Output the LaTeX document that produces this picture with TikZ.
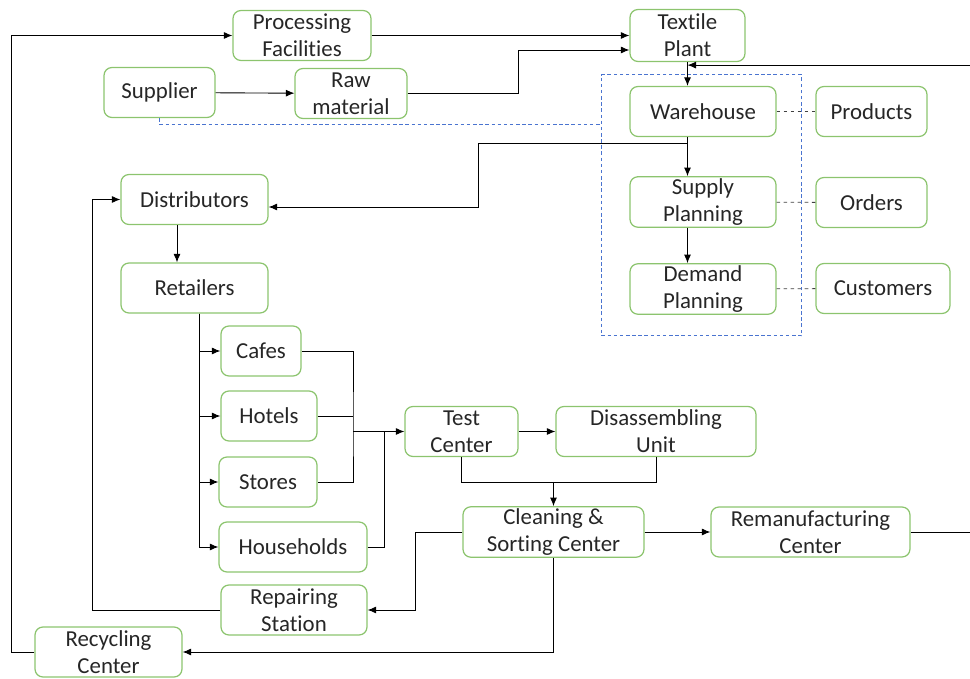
\documentclass[tikz,border=0pt]{standalone}
\usepackage{fontspec}
\setmainfont{Carlito}[Ligatures=NoCommon]
\usetikzlibrary{calc,positioning,arrows.meta,fit}
\definecolor{boxgreen}{HTML}{8CC46E}
\definecolor{planblue}{HTML}{4A74D0}
\tikzset{
    every node/.style={
        font=\fontsize{13}{15.5}\selectfont
    },
    block/.style={
        shape=rectangle,
        draw=boxgreen,
        line width=0.7pt,
        text=black!85,
        rounded corners=1.6mm,
        align=center,
        inner sep=1pt,
        minimum height=1cm
    }
}

\begin{document}
\begin{tikzpicture}[
		>={Latex[length=1.7mm,width=1.4mm]},
		line width=0.5pt,
		planbox/.style={draw=planblue, dash pattern=on 2pt off 1.5pt, line width=0.55pt, inner sep=0pt},
		link/.style={dash pattern=on 2pt off 2pt, black!75}
		]
		\useasboundingbox (0,0) rectangle (19.4,-13.58);
		
		% upstream: sourcing and production
		\node (proc) at (6.04, -0.71) [block, minimum width=2.76cm] {Processing\\Facilities};
		\node (tex) at (13.75, -0.71) [block, minimum width=2.3cm, minimum height=1.04cm] {Textile\\Plant};
		\node (sup) at (3.19, -1.85) [block, minimum width=2.22cm] {Supplier};
		\node (raw) at (7.02, -1.87) [block, minimum width=2.24cm] {Raw\\material};
		
		% planning
		\node (wh) at (14.06, -2.23) [block, minimum width=2.92cm] {Warehouse};
		\node (spl) at (14.06, -4.04) [block, minimum width=2.92cm] {Supply\\Planning};
		\node (dpl) at (14.06, -5.78) [block, minimum width=2.92cm] {Demand\\Planning};
		\node (prod) at (17.43, -2.23) [block, minimum width=2.22cm] {Products};
		\node (ord) at (17.43, -4.05) [block, minimum width=2.22cm] {Orders};
		\node (cust) at (17.66, -5.77) [block, minimum width=2.68cm] {Customers};
		
		\node (plan) [planbox, fit={($(wh.north west)+(-0.56,0.22)$) ($(dpl.south east)+(0.5,-0.42)$)}] {};
		
		% distribution
		\node (dist) at (3.89, -3.99) [block, minimum width=2.94cm] {Distributors};
		\node (ret) at (3.89, -5.76) [block, minimum width=2.94cm] {Retailers};
		\node (cafe) at (5.22, -7.02) [block, minimum width=1.6cm] {Cafes};
		\node (hotel) at (5.38, -8.32) [block, minimum width=1.92cm] {Hotels};
		\node (store) at (5.36, -9.64) [block, minimum width=1.96cm] {Stores};
		\node (house) at (5.86, -10.94) [block, minimum width=2.96cm] {Households};
		
		% return loop
		\node (test) at (9.23, -8.63) [block, minimum width=2.26cm] {Test\\Center};
		\node (dis) at (13.12, -8.63) [block, minimum width=4cm] {Disassembling\\Unit};
		\node (clean) at (11.07, -10.64) [block, minimum width=3.62cm] {Cleaning \&\\Sorting Center};
		\node (reman) at (16.21, -10.64) [block, minimum width=3.98cm] {Remanufacturing\\Center};
		\node (rep) at (5.88, -12.2) [block, minimum width=2.92cm] {Repairing\\Station};
		\node (rec) at (2.17, -13.04) [block, minimum width=2.94cm] {Recycling\\Center};
		
		\coordinate (merge) at (7.06, -8.63);
		\coordinate (join) at (11.07, -9.64);
		
		\draw [->] (sup) -- (raw);
		\draw [->] (proc) -- (tex);
		\draw [->] (raw.east) -- ++(2.22,0) |- ($(tex.west)+(0,-0.29)$);
		\draw [->] (tex.south) -- (tex.south |- wh.north);
		\draw [->] (reman.east) -- ++(1.19,0) |- ($(tex.south)+(0,-0.06)$);
		\draw [->] (wh.south -| tex) -- (spl.north -| tex);
		\draw [->] (spl.south -| tex) -- (dpl.north -| tex);
		\draw [->] ($(wh.south -| tex)+(0,-0.13)$) -- ++(-4.18,0) |- ($(dist.east)+(0,-0.15)$);
		
		\draw [link] (wh) -- (prod);
		\draw [link] (spl) -- (ord);
		\draw [link] (dpl) -- (cust);
		\draw [planbox] (sup.south) |- ($(plan.north west)+(0,-1)$);
		
		\draw [->] ($(dist.south)+(-0.35,0)$) -- ($(ret.north)+(-0.35,0)$);
		\draw [->] ($(ret.south)+(0.09,0)$) |- (cafe.west);
		\draw [->] ($(ret.south)+(0.09,0)$) |- (hotel.west);
		\draw [->] ($(ret.south)+(0.09,0)$) |- (store.west);
		\draw [->] ($(ret.south)+(0.09,0)$) |- (house.west);
		
		\draw (cafe.east) -| (merge) |- (store.east);
		\draw (hotel.east) -- (hotel.east -| merge);
		\draw (house.east) -| ($(merge)+(0.62,0)$);
		\draw [->] (merge) -- (test.west);
		\draw [->] (test) -- (dis);
		\draw (test.south) |- (join);
		\draw (dis.south) |- (join);
		\draw [->] (join) -- (clean.north);
		\draw [->] (clean) -- (reman);
		
		\draw [->] (clean.west) -- ++(-0.94,0) |- (rep.east);
		\draw [->] (rep.west) -- ++(-2.56,0) |- (dist.west);
		\draw [->] (clean.south) |- (rec.east);
		\draw [->] (rec.west) -- ++(-0.46,0) |- (proc.west);
	\end{tikzpicture}
\end{document}
